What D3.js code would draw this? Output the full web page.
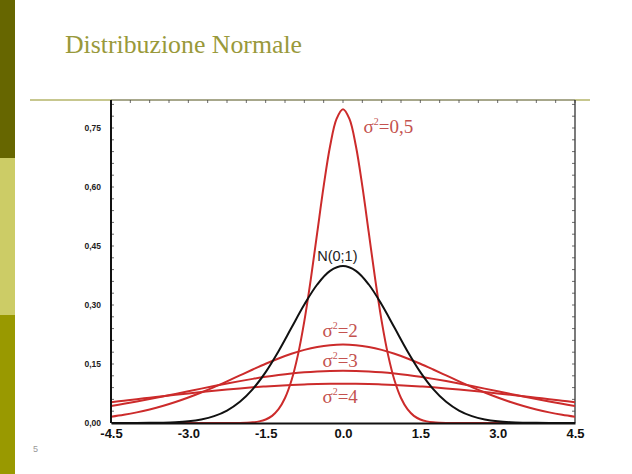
<!DOCTYPE html>
<html><head><meta charset="utf-8">
<script src="https://cdn.jsdelivr.net/npm/d3@7"></script>
</head><body style="margin:0">
<svg id="c" width="632" height="474"></svg>
<script>
// x grid for the wide curves
const xs = [-4.5,-4.25,-4,-3.75,-3.5,-3.25,-3,-2.75,-2.5,-2.25,-2,-1.75,-1.5,-1.25,-1,-0.75,-0.5,-0.25,0,
  0.25,0.5,0.75,1,1.25,1.5,1.75,2,2.25,2.5,2.75,3,3.25,3.5,3.75,4,4.25,4.5];
// half-curves (x = 0 .. 4.5), mirrored below
const halfN01 = [0.3989,0.3867,0.3521,0.3011,0.2420,0.1826,0.1295,0.0863,0.0540,0.0317,0.0175,0.0091,0.0044,0.0020,0.0009,0.0004,0.0001,0.0000,0.0000];
const halfV2 = [0.1995,0.1979,0.1933,0.1859,0.1760,0.1641,0.1506,0.1360,0.1210,0.1059,0.0913,0.0775,0.0648,0.0533,0.0431,0.0344,0.0270,0.0209,0.0159];
const halfV3 = [0.1330,0.1325,0.1311,0.1289,0.1258,0.1219,0.1174,0.1122,0.1065,0.1004,0.0940,0.0874,0.0807,0.0740,0.0673,0.0609,0.0547,0.0488,0.0432];
const halfV4 = [0.0997,0.0995,0.0990,0.0980,0.0967,0.0950,0.0930,0.0906,0.0880,0.0851,0.0820,0.0787,0.0753,0.0717,0.0680,0.0643,0.0605,0.0567,0.0530];
// narrow curve (sigma^2 = 0,5)
const xsNarrow = [-4.5,-3.5,-2.5,-2,-1.875,-1.75,-1.625,-1.5,-1.375,-1.25,-1.125,-1,-0.875,-0.75,-0.625,-0.5,-0.375,-0.25,-0.125,0,
  0.125,0.25,0.375,0.5,0.625,0.75,0.875,1,1.125,1.25,1.375,1.5,1.625,1.75,1.875,2,2.5,3.5,4.5];
const halfV05 = [0.7979,0.7733,0.7041,0.6022,0.4839,0.3653,0.2591,0.1726,0.1080,0.0635,0.0351,0.0182,0.0089,0.0041,0.0017,0.0007,0.0003,0.0000,0.0000,0.0000];
const xTicks = [-4.5,-3.0,-1.5,0.0,1.5,3.0,4.5];
const yTicks = [0.00,0.15,0.30,0.45,0.60,0.75];
const xTickLabels = ["-4.5","-3.0","-1.5","0.0","1.5","3.0","4.5"];
const yTickLabels = ["0,00","0,15","0,30","0,45","0,60","0,75"];

function full(half){ return half.slice(1).reverse().concat(half); }

const series = [
  {name:"v05", x:xsNarrow, y:full(halfV05), color:"#cc2b2b"},
  {name:"v2", x:xs, y:full(halfV2), color:"#cc2b2b"},
  {name:"v3", x:xs, y:full(halfV3), color:"#cc2b2b"},
  {name:"v4", x:xs, y:full(halfV4), color:"#cc2b2b"},
  {name:"n01", x:xs, y:full(halfN01), color:"#111"}
];

const SERIF = '"Liberation Serif"';
const SANS = '"Liberation Sans"';

const svg = d3.select("#c");
// left decorative bar
svg.append("rect").attr("x",0).attr("y",0).attr("width",15).attr("height",158).attr("fill","#666600");
svg.append("rect").attr("x",0).attr("y",158).attr("width",15).attr("height",157).attr("fill","#cccc66");
svg.append("rect").attr("x",0).attr("y",315).attr("width",15).attr("height",159).attr("fill","#999900");

svg.append("text").attr("font-family","Liberation Serif").style("font-family",SERIF)
  .attr("x",65).attr("y",53).attr("textLength",237).attr("lengthAdjust","spacingAndGlyphs")
  .attr("font-size",25).attr("fill","#99993a")
  .text("Distribuzione Normale");

svg.append("line").attr("x1",30).attr("x2",590).attr("y1",100).attr("y2",100)
  .attr("stroke","#b5b56a").attr("stroke-width",1.5);

const L=111, R=575, T=100, B=423;
const x = d3.scaleLinear().domain([-4.5,4.5]).range([L,R]);
const y = d3.scaleLinear().domain([0,0.75]).range([B,128]);

const g = svg.append("g");
g.append("clipPath").attr("id","clip").append("rect").attr("x",L).attr("y",T).attr("width",R-L).attr("height",B-T);

// frame
g.append("line").attr("x1",L).attr("x2",R).attr("y1",T).attr("y2",T).attr("stroke","#888").attr("stroke-width",1);
g.append("line").attr("x1",R).attr("x2",R).attr("y1",T).attr("y2",B).attr("stroke","#222").attr("stroke-width",1.2);
// minor ticks
const yMinor = d3.range(0,0.82,0.03);
g.selectAll(".ym").data(yMinor).join("line").attr("x1",L).attr("x2",L+3).attr("y1",d=>y(d)).attr("y2",d=>y(d)).attr("stroke","#444").attr("stroke-width",0.8);
g.selectAll(".yr").data(yMinor).join("line").attr("x1",R-3).attr("x2",R).attr("y1",d=>y(d)).attr("y2",d=>y(d)).attr("stroke","#444").attr("stroke-width",0.8);
const xMinor = d3.range(-4.5,4.51,0.375);
g.selectAll(".xm").data(xMinor).join("line").attr("x1",d=>x(d)).attr("x2",d=>x(d)).attr("y1",T).attr("y2",T+3).attr("stroke","#444").attr("stroke-width",0.8);

const line = d3.line().curve(d3.curveCatmullRom);
const cg = g.append("g").attr("clip-path","url(#clip)");
series.forEach(s=>{
  cg.append("path").datum(s.x.map((v,i)=>[x(v),y(s.y[i])]))
    .attr("d",line).attr("fill","none").attr("stroke",s.color).attr("stroke-width",2);
});

// axes
const xAxis = d3.axisBottom(x).tickValues(xTicks).tickSize(0).tickFormat((d,i)=>xTickLabels[i]);
const xa = g.append("g").attr("transform",`translate(0,${B})`).call(xAxis);
xa.select(".domain").attr("stroke","#111").attr("stroke-width",2);
xa.selectAll("text").style("font-family",SANS).attr("font-weight","bold")
  .attr("font-size",13).attr("fill","#111").attr("dy",0).attr("y",15);

const yAxis = d3.axisLeft(y).tickValues(yTicks).tickSize(0).tickFormat((d,i)=>yTickLabels[i]);
const ya = g.append("g").attr("transform",`translate(${L},0)`).call(yAxis);
ya.select(".domain").attr("d",`M0,${T}V${B}`).attr("stroke","#111").attr("stroke-width",2);
ya.selectAll("text").style("font-family",SANS).attr("font-weight","bold")
  .attr("font-size",8.5).attr("fill","#222").attr("x",-10);

// annotations
function sigLabel(px, py, val){
  const t = svg.append("text").attr("font-family","Liberation Serif").style("font-family",SERIF)
    .attr("x",px).attr("y",py)
    .attr("font-size",19).attr("fill","#c4524f");
  t.append("tspan").text("σ");
  t.append("tspan").attr("font-size",10).attr("dy",-8).text("2");
  t.append("tspan").attr("dy",8).text("=" + val);
}
sigLabel(x(0.4), 133, "0,5");
sigLabel(x(-0.4), 337, "2");
sigLabel(x(-0.4), 367, "3");
sigLabel(x(-0.4), 403, "4");
svg.append("text").style("font-family",SANS).attr("x",x(-0.5)).attr("y",261)
  .attr("font-size",14.5).attr("fill","#222").text("N(0;1)");

svg.append("text").style("font-family",SANS).attr("x",33).attr("y",452)
  .attr("font-size",9).attr("fill","#999").text("5");
</script>
</body></html>
